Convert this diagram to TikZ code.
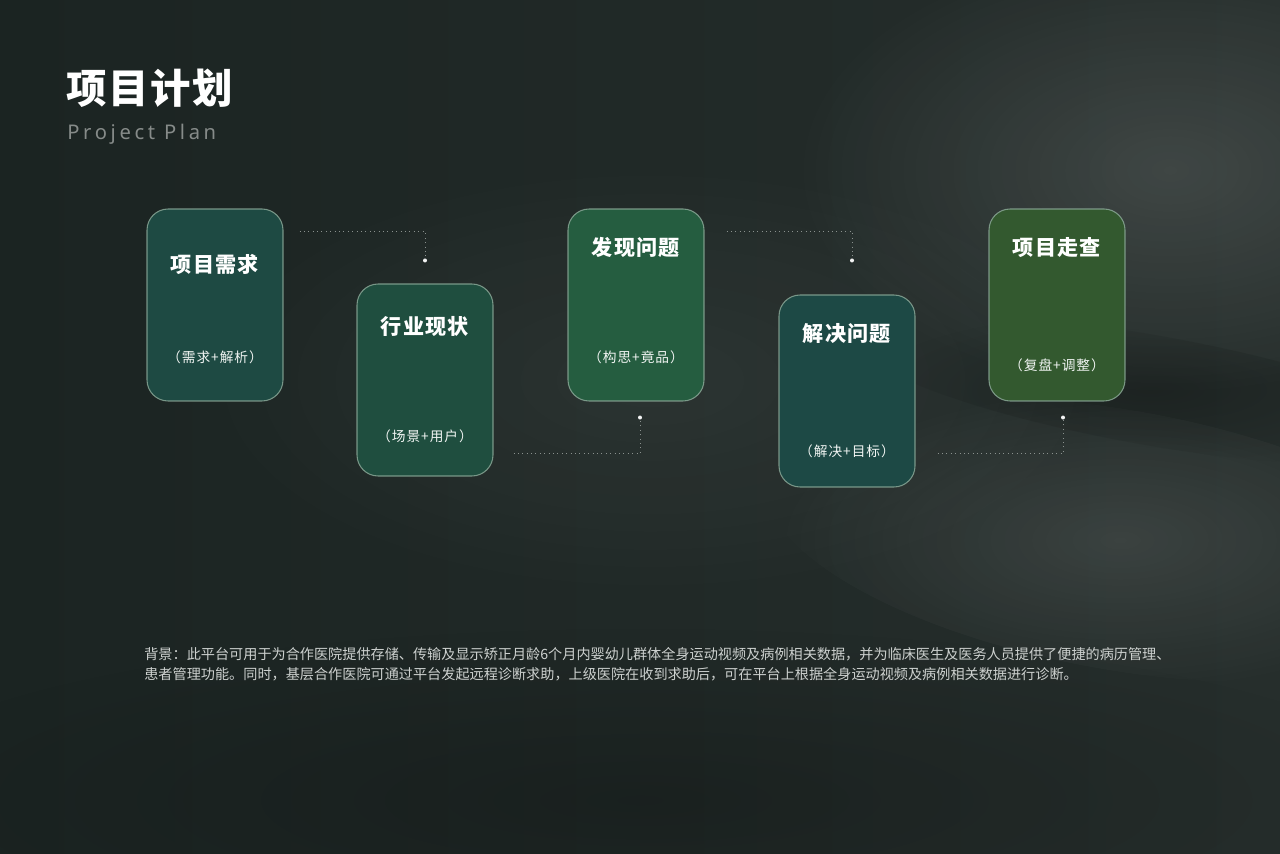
\documentclass[tikz,border=0pt]{standalone}
\usepackage{fontspec}
\setmainfont{Noto Sans CJK SC}
\newfontfamily\titlefont[LetterSpace=4]{Noto Sans CJK SC}
\newfontfamily\cardfont[LetterSpace=6]{Noto Sans CJK SC}
\newfontfamily\subfont[LetterSpace=7]{Noto Sans CJK SC}
\newfontfamily\enfont[LetterSpace=18]{Noto Sans}
\usetikzlibrary{positioning,calc,fadings}

\definecolor{bgdark}{HTML}{1B2422}
\definecolor{bgright}{HTML}{262E2C}
\definecolor{cardone}{HTML}{1E4A43}
\definecolor{cardtwo}{HTML}{1F4E3F}
\definecolor{cardthree}{HTML}{255D40}
\definecolor{cardfour}{HTML}{1D4945}
\definecolor{cardfive}{HTML}{33592F}
\definecolor{cardline}{HTML}{8FAD9C}
\definecolor{linegray}{HTML}{8A918E}
\definecolor{entext}{HTML}{868B89}
\definecolor{bodytext}{HTML}{CDD1CF}

\pgfdeclareradialshading{hazeshade}{\pgfpointorigin}{color(0bp)=(pgftransparent!0); color(24bp)=(pgftransparent!100); color(50bp)=(pgftransparent!100)}
\pgfdeclarefading{haze}{\pgfuseshading{hazeshade}}

\tikzset{
  card/.style={draw=cardline, draw opacity=0.8, line width=0.6pt, rounded corners=12,
    minimum width=136*0.02cm, minimum height=192*0.02cm, inner sep=0},
  cardtitle/.style={text=white, font=\cardfont\fontsize{12}{14}\selectfont\bfseries, inner sep=0},
  cardsub/.style={text=white!88!cardline, font=\subfont\fontsize{7.8}{9}\selectfont, inner sep=0},
  link/.style={draw=linegray, dotted, line width=0.5pt},
  dot/.style={fill=white!90!linegray}
}

\begin{document}
\begin{tikzpicture}[x=0.02cm, y=-0.02cm]
		% background and haze
		\shade[left color=bgdark, right color=bgright] (0,0) rectangle (1280,854);
		\useasboundingbox (0,0) rectangle (1280,854);
		\fill[white, opacity=0.12, path fading=haze] (1170,170) ellipse (400 and 240);
		\fill[white, opacity=0.05, path fading=haze] (650,380) ellipse (500 and 240);
		\fill[black, opacity=0.22, path fading=haze, rotate around={-10:(1150,390)}] (1150,390) ellipse (300 and 55);
		\fill[white, opacity=0.10, path fading=haze, rotate around={-10:(1120,540)}] (1120,540) ellipse (360 and 130);
		\fill[black, opacity=0.20, path fading=haze] (640,800) ellipse (820 and 180);
		
		% heading
		\node[anchor=west, text=white, font=\titlefont\fontsize{23}{26}\selectfont\bfseries, inner sep=0] (title) at (66,88) {项目计划};
		\node[anchor=west, text=entext, font=\enfont\fontsize{11.5}{13}\selectfont, inner sep=0] (subtitle) at (67,134) {Project Plan};
		
		% 5 cards
		\node[card, fill=cardone] (need) at (215,305) {};
		\node[card, fill=cardtwo] (status) at (425,380) {};
		\node[card, fill=cardthree] (issue) at (636,305) {};
		\node[card, fill=cardfour] (solve) at (847,391) {};
		\node[card, fill=cardfive] (review) at (1057,305) {};
		
		\node[cardtitle] (needT) at ($(need.north)+(0,56)$) {项目需求};
		\node[cardsub] (needS) at ($(need.north)+(0,149)$) {（需求+解析）};
		\node[cardtitle] (statusT) at ($(status.north)+(0,43)$) {行业现状};
		\node[cardsub] (statusS) at ($(status.north)+(0,153)$) {（场景+用户）};
		\node[cardtitle] (issueT) at ($(issue.north)+(0,39)$) {发现问题};
		\node[cardsub] (issueS) at ($(issue.north)+(0,149)$) {（构思+竟品）};
		\node[cardtitle] (solveT) at ($(solve.north)+(0,39)$) {解决问题};
		\node[cardsub] (solveS) at ($(solve.north)+(0,157)$) {（解决+目标）};
		\node[cardtitle] (reviewT) at ($(review.north)+(0,39)$) {项目走查};
		\node[cardsub] (reviewS) at ($(review.north)+(0,157)$) {（复盘+调整）};
		
		% dotted connectors with end dots
		\coordinate (d1) at ($(status.north)+(0,-23)$);
		\coordinate (d2) at ($(issue.south)+(4,16)$);
		\coordinate (d3) at ($(solve.north)+(5,-34)$);
		\coordinate (d4) at ($(review.south)+(6,16)$);
		\draw[link] ($(need.north east)+(16,23)$) -| (d1);
		\draw[link] ($(status.south east)+(20,-23)$) -| (d2);
		\draw[link] ($(issue.north east)+(22,23)$) -| (d3);
		\draw[link] ($(solve.south east)+(22,-34)$) -| (d4);
		\foreach \d in {d1,d2,d3,d4}
			\fill[dot] (\d) circle (2);
		
		% background note
		\node[anchor=west, align=left, text=bodytext, inner sep=0,
			font=\fontsize{8.05}{11.3}\selectfont] (note) at (144,664)
			{背景：此平台可用于为合作医院提供存储、传输及显示矫正月龄6个月内婴幼儿群体全身运动视频及病例相关数据，并为临床医生及医务人员提供了便捷的病历管理、\\
			患者管理功能。同时，基层合作医院可通过平台发起远程诊断求助，上级医院在收到求助后，可在平台上根据全身运动视频及病例相关数据进行诊断。};
	\end{tikzpicture}
\end{document}
